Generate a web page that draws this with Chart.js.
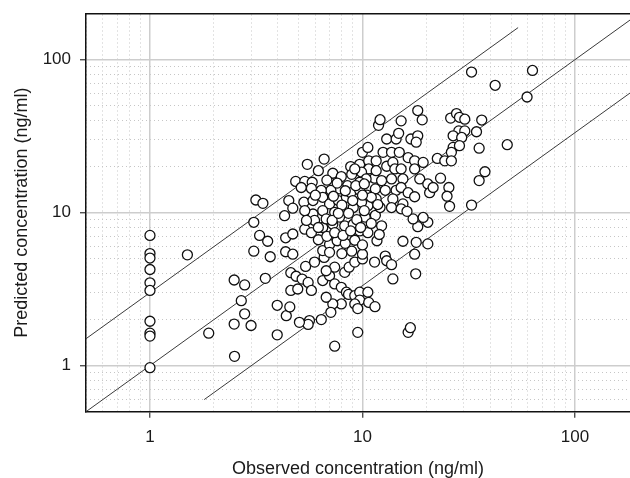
<!DOCTYPE html>
<html><head><meta charset="utf-8">
<script src="https://cdn.jsdelivr.net/npm/chart.js@4"></script>
<style>html,body{margin:0;padding:0;overflow:hidden;background:#fff}#wrap{width:630px;height:478px}</style>
</head><body><div id="wrap"><canvas id="c" width="630" height="478" style="width:630px;height:478px"></canvas></div>
<script>
const observed = [
1,1,1,1,1,1,1,1,1,1,
1.5,1.89,2.5,2.49,2.49,2.69,2.79,2.79,2.99,3.08,3.08,3.15,3.28,3.4,3.49,3.58,3.68,3.97,3.97,4.3,
4.5,4.35,4.35,4.38,4.6,4.6,4.55,4.87,4.96,5.2,5.55,5.75,6.5,7.0,7.4,6.75,8.25,8.65,9.2,10,
10,11.4,12.8,13,13.7,13.9,17.8,17.6,7.4,7.95,8.4,8.6,9.2,9.7,10.6,9.7,9.2,9.5,7.95,7.25,
6.75,7.1,6.4,5.63,5.55,5.05,10.7,11.45,9.5,7.4,16.4,16.8,5.4,5.95,6.6,6.5,4.7,4.7,5.35,5.75,
6.2,7.0,7.6,8.3,9.2,10,9.7,10.6,6.5,7.25,8.25,9.05,11.7,15.5,17.9,20.3,12.3,18.2,20.3,17.3,
19.3,11.5,10.3,
5.5,6.2,6.6,7.25,7.95,8.8,9.7,10.7,10.7,9.9,4.85,5.35,5.8,11.4,11.5,10.4,9.7,8.5,7.8,7.1,
6.4,5.75,5.15,4.7,5.3,5.85,6.5,7.0,7.7,8.4,8.8,9.7,10.5,10.6,9.9,9.05,8.1,7.4,6.5,5.85,
5.35,6.75,7.8,5.95,5.45,10,10.6,11.9,12.1,15.2,18.2,19.1,13,14.4,14.8,16.9,18.2,17.9,12.5,13.7,
14.9,16.4,17.6,19.3,11.6,11.6,13,13.9,14.2,15.2,12.3,13.7,15.5,17.6,18.6,20.3,20.7,21.5,12.8,14.4,
15.2,16.4,17.6,11.6,13.9,15.5,13.7,12.1,15.2,16.2,
32.6,42.1,63.1,59.5,36.4,26,27.7,28.6,30.3,34.4,28.4,30.3,26.7,29.3,26.7,28.6,26.2,22.5,24.4,26.2,
23.3,25.5,25,25.7,32.6,35.4,37.7,35.4,48,
6.8,7.4,8.1,8.8,9.4,8.6,7.2,6.2,9.0,8.0,7.3,6.0,8.3,9.3,10.2,11.0,10.2,11.8,7.6,6.8,
8.9,10.0,9.2,7.0,8.0,8.9,12.0,11.0,9.8,7.7
];
const predicted = [
7.1,5.4,5.05,4.25,3.48,3.1,1.95,1.63,1.56,0.97,
5.3,1.63,1.15,1.87,3.63,2.66,2.18,3.37,1.83,5.6,8.65,12.1,7.1,11.5,3.72,6.5,5.15,2.48,1.59,9.55,
12,6.85,5.55,2.12,4.05,3.1,2.42,3.84,3.17,3.68,3.5,3.1,3.6,3.87,4.4,4.17,4.07,4.4,4.75,4.98,
5.35,4.75,5.2,4.85,4.57,3.69,3.98,5.35,3.42,3.25,3.02,2.92,2.87,3.02,3.02,2.68,2.53,2.36,2.53,2.53,
2.8,2.23,2.0,1.97,1.86,1.92,2.59,2.43,1.65,1.34,1.65,1.77,4.45,4.75,5.1,5.65,5.35,7.25,7.8,7.4,
6.65,6.2,6.55,6.3,6.6,6.15,7.6,7.4,8,8.4,8.2,8.4,6.55,6.5,6.4,6.25,8.2,8.1,8.65,9.1,
9.3,9.6,9.35,
20.7,18.8,22.4,18.1,17.2,20,20.7,21.8,19.3,18.4,16,16,15.8,16.8,14.3,16.6,15.8,15,14.3,14,
14,14.4,14.6,10.7,11.7,12,12.6,11.4,12,12.6,13.5,14,13,11.1,11.7,10.8,10.3,10.05,10.3,9.8,
10.3,9.1,9.35,8.9,8.9,24.8,26.7,37.2,40.5,39.8,46.5,40.4,30.3,30.3,33,30.3,31.8,28.9,24.8,24.8,
24.8,22.9,21.8,21.3,21.8,18.8,20.1,21.3,19.3,19.3,16.2,16.6,16.6,19.3,16.6,15.4,13.5,14.6,14,14,
14.6,13.5,12.7,12.3,12.3,11.4,10.8,10.8,10.6,10.2,
83,68,85,57,40.3,41.5,44.4,42,40.8,33.8,34.2,34.2,31.8,31,26.7,27.4,24.8,22.6,21.8,21.8,
16.8,14.6,12.8,11,11.2,16.2,18.5,26.4,27.8,
7.0,7.4,7.1,7.6,9.0,9.9,8.9,8.0,12.0,11.2,12.8,13.0,13.9,15.0,15.4,12.6,10.3,11.3,15.6,16.3,
17.8,13.0,19.3,5.5,5.4,5.6,7.2,8.5,8.0,9.9
];
const majorTicks = [1, 10, 100];
const minorTicks = [0.5,0.6,0.7,0.8,0.9,2,3,4,5,6,7,8,9,20,30,40,50,60,70,80,90,200];
const refFactors = [3, 1, 1/3];
const refStartX = [0.5, 0.5, 1.8];
const refEndX = [54, 200, 200];
const xMin = 0.5, xMax = 181.5;
const yMin = 0.5, yMax = 200;
const xTitle = 'Observed concentration (ng/ml)';
const yTitle = 'Predicted concentration (ng/ml)';

const FAMILY = "'Liberation Sans', Arial, sans-serif";
const points = observed.map((x, i) => ({x: x, y: predicted[i]}));
const refSets = refFactors.map((f, i) => ({
  type: 'scatter',
  data: [{x: refStartX[i], y: refStartX[i] * f}, {x: refEndX[i], y: refEndX[i] * f}],
  showLine: true, pointRadius: 0, borderColor: '#3a3a3a', borderWidth: 1, order: 2,
  xAxisID: 'x', yAxisID: 'y'
}));
const setTicks = list => s => { s.ticks = list.map(v => ({value: v})); };
const fixSize = (w, h) => s => {
  if (w !== null) s.width = w;
  if (h !== null) s.height = h;
  s.paddingTop = 0; s.paddingBottom = 0; s.paddingLeft = 0; s.paddingRight = 0;
};
const minorGrid = {color: '#c6c6c6', lineWidth: 1, drawTicks: false};

new Chart(document.getElementById('c'), {
  type: 'scatter',
  data: {
    datasets: [
      {data: points, pointRadius: 5, pointBorderWidth: 1.3, pointBorderColor: '#111',
       pointBackgroundColor: '#fff', order: 0, xAxisID: 'x', yAxisID: 'y'},
      ...refSets
    ]
  },
  options: {
    responsive: false, animation: false,
    layout: {autoPadding: false, padding: {top: 13.6, right: 0, bottom: 0, left: 0}},
    plugins: {legend: {display: false}, tooltip: {enabled: false}},
    scales: {
      x2: {type: 'logarithmic', position: 'top', min: xMin, max: xMax,
        afterBuildTicks: setTicks(minorTicks), afterFit: fixSize(null, 0),
        ticks: {display: false}, grid: minorGrid,
        border: {display: true, color: '#111', width: 1.5, dash: [1, 3]}},
      y2: {type: 'logarithmic', position: 'right', min: yMin, max: yMax,
        afterBuildTicks: setTicks(minorTicks), afterFit: fixSize(0, null),
        ticks: {display: false}, grid: minorGrid,
        border: {display: false, dash: [1, 3]}},
      x: {type: 'logarithmic', position: 'bottom', min: xMin, max: xMax,
        afterBuildTicks: setTicks(majorTicks), afterFit: fixSize(null, 66.3),
        ticks: {callback: v => String(v), color: '#1a1a1a', font: {family: FAMILY, size: 17},
          padding: 9, maxRotation: 0, autoSkip: false},
        grid: {color: '#cdcdcd', lineWidth: 1.5, tickColor: '#333', tickLength: 6, tickWidth: 1.2},
        border: {color: '#111', width: 1.5},
        title: {display: true, text: xTitle, color: '#1a1a1a', font: {family: FAMILY, size: 18},
          padding: {top: 0, bottom: -2.3}}},
      y: {type: 'logarithmic', position: 'left', min: yMin, max: yMax,
        afterBuildTicks: setTicks(majorTicks), afterFit: fixSize(86, null),
        ticks: {callback: v => String(v), color: '#1a1a1a', font: {family: FAMILY, size: 17},
          padding: 9, autoSkip: false},
        grid: {color: '#cdcdcd', lineWidth: 1.5, tickColor: '#333', tickLength: 6, tickWidth: 1.2},
        border: {color: '#111', width: 1.5},
        title: {display: true, text: yTitle, color: '#1a1a1a', font: {family: FAMILY, size: 18},
          padding: {top: 11.5, bottom: 0}}}
    }
  }
});
</script>
</body></html>
